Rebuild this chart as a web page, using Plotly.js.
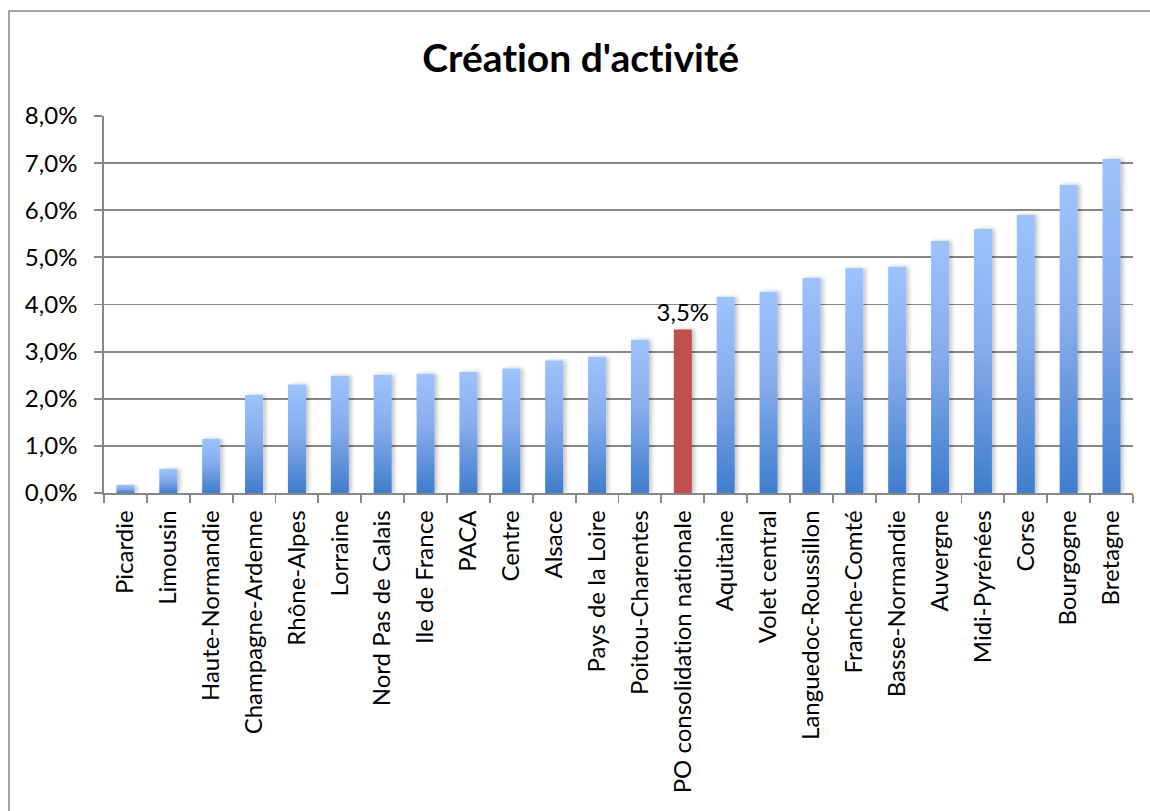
<!DOCTYPE html>
<html>
<head>
<meta charset="utf-8">
<script src="https://cdn.plot.ly/plotly-3.0.1.min.js"></script>
<style>
  html, body { margin: 0; padding: 0; background: #ffffff; }
  #chart { width: 1150px; height: 811px; }
  #chart svg text { font-variant-ligatures: none; font-feature-settings: "liga" 0, "clig" 0; }
</style>
</head>
<body>
<div id="chart"></div>
<script>
// Regions, sorted by rate of business creation (in %)
const regions = [
  "Picardie", "Limousin", "Haute-Normandie", "Champagne-Ardenne", "Rhône-Alpes",
  "Lorraine", "Nord Pas de Calais", "Ile de France", "PACA", "Centre", "Alsace",
  "Pays de la Loire", "Poitou-Charentes", "PO consolidation nationale", "Aquitaine",
  "Volet central", "Languedoc-Roussillon", "Franche-Comté", "Basse-Normandie",
  "Auvergne", "Midi-Pyrénées", "Corse", "Bourgogne", "Bretagne"
];
const rates = [
  0.17, 0.51, 1.15, 2.08, 2.30,
  2.49, 2.51, 2.53, 2.57, 2.64, 2.81,
  2.89, 3.25, 3.47, 4.16,
  4.27, 4.56, 4.77, 4.80,
  5.35, 5.60, 5.90, 6.54, 7.09
];
const highlighted = "PO consolidation nationale";
const yTicks = [0, 1, 2, 3, 4, 5, 6, 7, 8];

const BLUE = "#5b8fd9";
const RED = "#c0504d";
const GRID = "#878787";
const FONT = "Lato, 'Open Sans', sans-serif";

const fmtPct = v => v.toFixed(1).replace(".", ",") + "%";

const barColors = regions.map(r => r === highlighted ? RED : BLUE);
const barText = regions.map((r, i) => r === highlighted ? fmtPct(rates[i]) : "");

const trace = {
  type: "bar",
  x: regions,
  y: rates,
  marker: { color: barColors, line: { width: 0 } },
  text: barText,
  textposition: "outside",
  constraintext: "none",
  textfont: { family: FONT, size: 24, color: "#000000" },
  cliponaxis: false,
  hoverinfo: "x+y",
  showlegend: false
};

// Chart frame, expressed in paper units of the plot area
const L = 104, R = 17, T = 116, B = 318, W = 1150, H = 811;
const pw = W - L - R, ph = H - T - B;
const px = v => (v - L) / pw;
const py = v => (H - B - v) / ph;

const layout = {
  width: W,
  height: H,
  margin: { l: L, r: R, t: T, b: B, pad: 0 },
  paper_bgcolor: "#ffffff",
  plot_bgcolor: "#ffffff",
  separators: ", ",
  font: { family: FONT, size: 24, color: "#000000" },
  title: {
    text: "<b>Création d'activité</b>",
    font: { family: FONT, size: 39, color: "#000000" },
    xref: "container", x: 0.505, xanchor: "center",
    yref: "container", y: 1 - 58 / H, yanchor: "middle"
  },
  bargap: 0.58,
  xaxis: {
    type: "category",
    tickangle: -90,
    tickfont: { family: FONT, size: 24, color: "#000000" },
    ticks: "outside",
    tickson: "boundaries",
    ticklen: 8,
    tickwidth: 1.8,
    tickcolor: GRID,
    ticklabelstandoff: 6,
    showline: true,
    linecolor: GRID,
    linewidth: 1.8,
    showgrid: false,
    zeroline: false,
    fixedrange: true
  },
  yaxis: {
    range: [0, 8],
    tickmode: "array",
    tickvals: yTicks,
    ticktext: yTicks.map(fmtPct),
    tickfont: { family: FONT, size: 24, color: "#000000" },
    ticks: "outside",
    ticklen: 8,
    tickwidth: 1.8,
    tickcolor: GRID,
    ticklabelstandoff: 12,
    showline: true,
    linecolor: GRID,
    linewidth: 1.8,
    showgrid: true,
    gridcolor: GRID,
    gridwidth: 1.8,
    zeroline: false,
    fixedrange: true
  },
  shapes: [{
    type: "rect",
    xref: "paper", yref: "paper",
    x0: px(9), x1: px(W + 20),
    y0: py(H + 20), y1: py(11),
    line: { color: GRID, width: 1.5 },
    fillcolor: "rgba(0,0,0,0)",
    layer: "below"
  }]
};

// Vertical fade on the blue bars plus a soft shadow on their right side
function shadeBars(gd) {
  const svg = gd.querySelector("svg.main-svg");
  if (!svg) return;
  const NS = "http://www.w3.org/2000/svg";
  let defs = svg.querySelector("defs");
  if (!defs) { defs = document.createElementNS(NS, "defs"); svg.insertBefore(defs, svg.firstChild); }
  if (!svg.querySelector("#barFade")) {
    const grad = document.createElementNS(NS, "linearGradient");
    grad.setAttribute("id", "barFade");
    grad.setAttribute("x1", "0"); grad.setAttribute("y1", "0");
    grad.setAttribute("x2", "0"); grad.setAttribute("y2", "1");
    [["0", "#9dc3fd"], ["0.45", "#86acec"], ["1", "#3f7dcd"]].forEach(([o, c]) => {
      const s = document.createElementNS(NS, "stop");
      s.setAttribute("offset", o);
      s.setAttribute("stop-color", c);
      grad.appendChild(s);
    });
    defs.appendChild(grad);

    const filt = document.createElementNS(NS, "filter");
    filt.setAttribute("id", "barShadow");
    filt.setAttribute("x", "-50%"); filt.setAttribute("y", "-10%");
    filt.setAttribute("width", "200%"); filt.setAttribute("height", "120%");
    const ds = document.createElementNS(NS, "feDropShadow");
    ds.setAttribute("dx", "2.5"); ds.setAttribute("dy", "0");
    ds.setAttribute("stdDeviation", "2");
    ds.setAttribute("flood-color", "#000000");
    ds.setAttribute("flood-opacity", "0.25");
    filt.appendChild(ds);
    defs.appendChild(filt);
  }
  const paths = gd.querySelectorAll(".barlayer .trace.bars .point path");
  paths.forEach((p, i) => {
    if (regions[i] !== highlighted) p.style.fill = "url(#barFade)";
    p.setAttribute("filter", "url(#barShadow)");
  });
}

const gd = document.getElementById("chart");
Plotly.newPlot(gd, [trace], layout, { displayModeBar: false, staticPlot: true }).then(() => {
  shadeBars(gd);
  gd.on("plotly_afterplot", () => shadeBars(gd));
});
</script>
</body>
</html>
